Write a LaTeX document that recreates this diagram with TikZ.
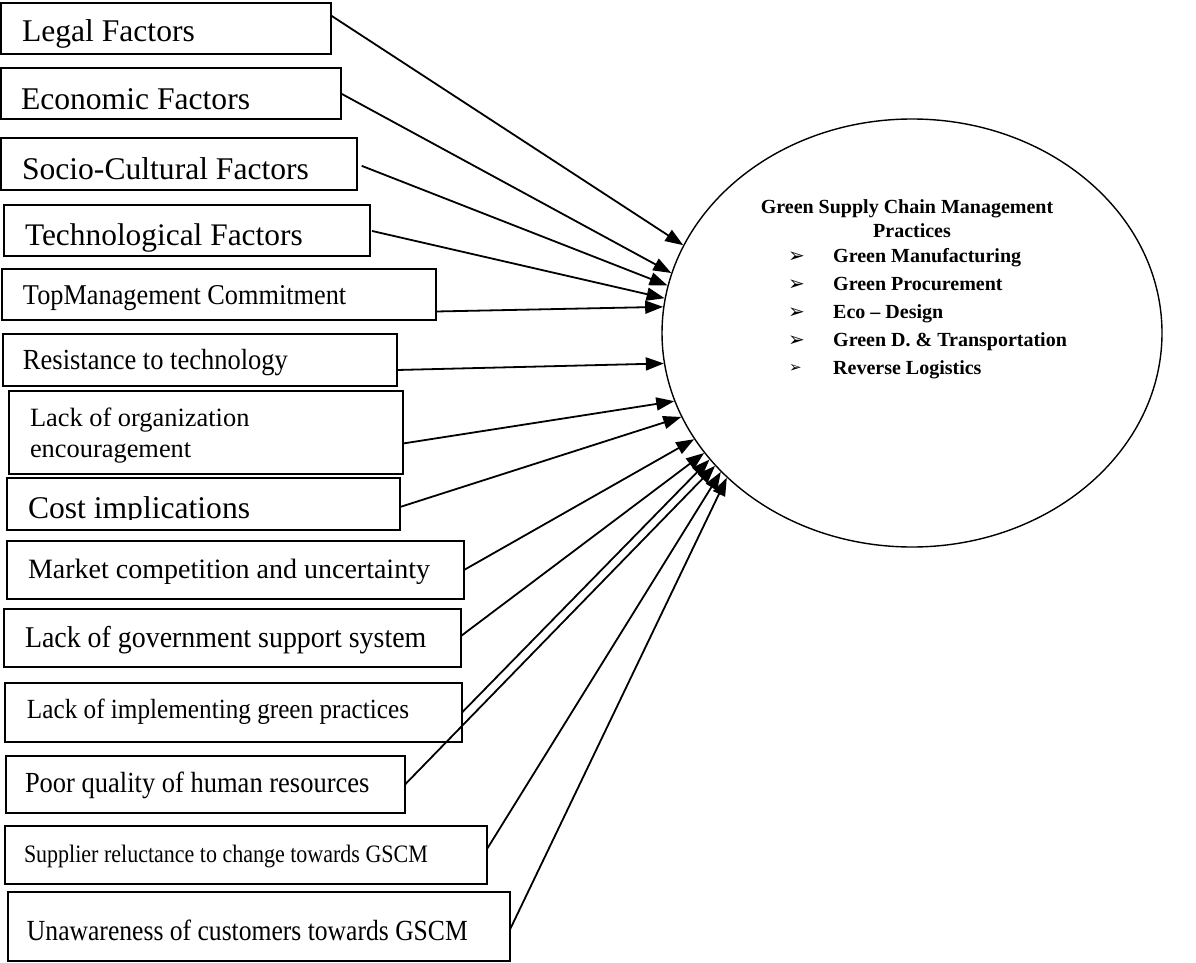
\documentclass[tikz,border=0pt]{standalone}
\usepackage{fontspec}
\setmainfont{Liberation Serif}
\newfontfamily\dejavu{DejaVu Sans}
\usepackage{graphicx}
\usetikzlibrary{shapes.geometric,arrows.meta}
\newcommand{\fsz}[1]{\fontsize{#1}{#1}\selectfont}
\newcommand{\ys}[2]{\scalebox{1}[#1]{#2}}
\begin{document}
\begin{tikzpicture}[x=1pt,y=-1pt,
  box/.style={draw, line width=1.6pt, inner sep=0pt, outer sep=0pt, anchor=north west},
  lbl/.style={anchor=base west, inner sep=0pt, outer sep=0pt},
  arr/.style={line width=1.8pt, -{Triangle[length=18pt,width=13pt]}},
  itm/.style={anchor=base west, inner sep=0pt, font=\fsz{20}\bfseries},
  bul/.style={anchor=base west, inner sep=0pt}]
\useasboundingbox (0,0) rectangle (1196,963);
\fill[white] (0,0) rectangle (1196,963);

% boxes
\node[box, minimum width=330pt, minimum height=51pt] (b1) at (1,3) {};
\node[box, minimum width=340pt, minimum height=51pt] (b2) at (1,68) {};
\node[box, minimum width=356pt, minimum height=52pt] (b3) at (1,138) {};
\node[box, minimum width=366pt, minimum height=51pt] (b4) at (4,205) {};
\node[box, minimum width=434pt, minimum height=51pt] (b5) at (2,269) {};
\node[box, minimum width=394pt, minimum height=52pt] (b6) at (3,334) {};
\node[box, minimum width=394pt, minimum height=83pt] (b7) at (9,391) {};
\node[box, minimum width=393pt, minimum height=52pt] (b8) at (7,478) {};
\node[box, minimum width=457pt, minimum height=58pt] (b9) at (7,541) {};
\node[box, minimum width=457pt, minimum height=58pt] (b10) at (4,609) {};
\node[box, minimum width=457pt, minimum height=59pt] (b11) at (5,683) {};
\node[box, minimum width=399pt, minimum height=57pt] (b12) at (6,756) {};
\node[box, minimum width=482pt, minimum height=58pt] (b13) at (5,826) {};
\node[box, minimum width=502pt, minimum height=69pt] (b14) at (8,892) {};

% labels
\node[lbl, font=\fsz{31.6}] (t1) at (22,42) {Legal Factors};
\node[lbl, font=\fsz{31.6}] (t2) at (21,110) {Economic Factors};
\node[lbl, font=\fsz{31.6}] (t3) at (22,179) {Socio-Cultural Factors};
\node[lbl, font=\fsz{31.4}] (t4) at (25,245) {Technological Factors};
\node[lbl, font=\fsz{26.3}] (t5) at (23,304) {\ys{1.09}{TopManagement Commitment}};
\node[lbl, font=\fsz{26.5}] (t6) at (23,369) {\ys{1.1}{Resistance to technology}};
\node[lbl, font=\fsz{26.4}] (t7a) at (30,426) {Lack of organization};
\node[lbl, font=\fsz{26.4}] (t7b) at (30,457) {encouragement};
\begin{scope}
\clip (7,478) rectangle (400,519);
\node[lbl, font=\fsz{31.6}] (t8) at (28,518) {Cost implications};
\end{scope}
\node[lbl, font=\fsz{28}] (t9) at (28,578) {Market competition and uncertainty};
\node[lbl, font=\fsz{27.9}] (t10) at (25,647) {\ys{1.08}{Lack of government support system}};
\node[lbl, font=\fsz{25.2}] (t11) at (27,718) {\ys{1.1}{Lack of implementing green practices}};
\node[lbl, font=\fsz{26.5}] (t12) at (25,792) {\ys{1.1}{Poor quality of human resources}};
\node[lbl, font=\fsz{22}] (t13) at (24,862) {\ys{1.14}{Supplier reluctance to change towards GSCM}};
\node[lbl, font=\fsz{25.6}] (t14) at (27,940) {\ys{1.14}{Unawareness of customers towards GSCM}};

% ellipse
\node[draw, ellipse, line width=1.4pt, minimum width=500pt, minimum height=428pt, inner sep=0pt] (e) at (912,333) {};

% text in ellipse
\node[anchor=base, inner sep=0pt, font=\fsz{20}\bfseries] (h1) at (907,213) {Green Supply Chain Management};
\node[anchor=base, inner sep=0pt, font=\fsz{20}\bfseries] (h2) at (912,237) {Practices};
\node[bul, font=\dejavu\fsz{20}] (u1) at (788,262) {➢};
\node[bul, font=\dejavu\fsz{20}] (u2) at (788,290) {➢};
\node[bul, font=\dejavu\fsz{20}] (u3) at (788,318) {➢};
\node[bul, font=\dejavu\fsz{20}] (u4) at (788,346) {➢};
\node[bul, font=\dejavu\fsz{15}] (u5) at (789,372) {➢};
\node[itm] (i1) at (833,262) {Green Manufacturing};
\node[itm] (i2) at (833,290) {Green Procurement};
\node[itm] (i3) at (833,318) {Eco -- Design};
\node[itm] (i4) at (833,346) {Green D. \& Transportation};
\node[itm] (i5) at (833,374) {Reverse Logistics};

% arrows
\draw[arr] ([yshift=13pt]b1.east) -- (e.159);
\draw[arr] (b2.east) -- (e.166);
\draw[arr, shorten <=5pt] (b3.east) -- (e.169);
\draw[arr, shorten <=2pt] (b4.east) -- (e.172);
\draw[arr] ([yshift=-17pt]b5.east) -- (e.174);
\draw[arr] ([yshift=-10pt]b6.east) -- (e.187);
\draw[arr] ([yshift=-11pt]b7.east) -- (e.196);
\draw[arr] ([yshift=-3pt]b8.east) -- (e.200);
\draw[arr] (b9.east) -- (e.206);
\draw[arr] ([yshift=2pt]b10.east) -- (e.210);
\draw[arr] (b11.east) -- (e.212);
\draw[arr] (b12.east) -- (e.214);
\draw[arr] ([yshift=6pt]b13.east) -- (e.216);
\draw[arr] ([yshift=-3pt]b14.east) -- (e.218);
\end{tikzpicture}
\end{document}
